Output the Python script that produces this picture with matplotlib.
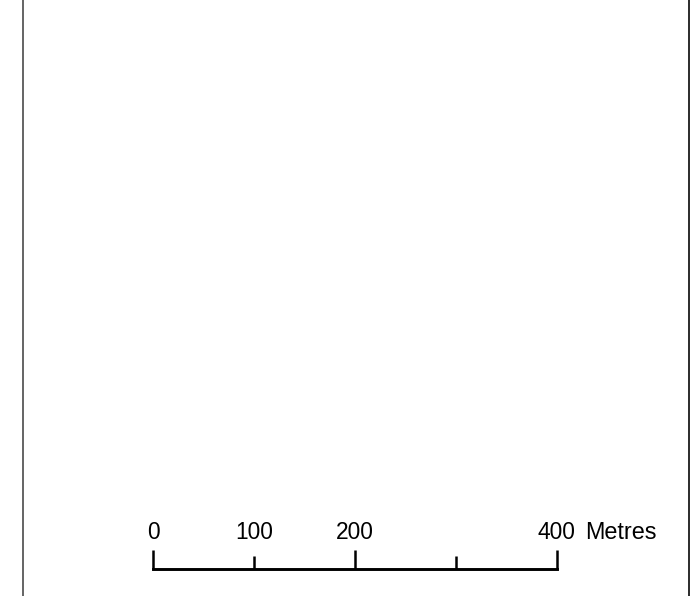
import matplotlib.pyplot as plt

plt.rcParams['font.family'] = ['Liberation Sans', 'DejaVu Sans']

# scale bar values (metres)
tick_values = [0, 100, 200, 300, 400]
major_ticks = [0, 200, 400]
tick_labels = {0: '0', 100: '100', 200: '200', 400: '400'}
unit_label = 'Metres'

fig = plt.figure(figsize=(6.93, 5.96), dpi=100)
ax = fig.add_axes([0, 0, 1, 1])

# pixel mapping: 0 m at x=153.5 px, 400 m at x=556.7 px
x0 = 153.5
px_per_m = (556.7 - x0) / 400
ax.set_xlim(-x0 / px_per_m, (693 - x0) / px_per_m)
ax.set_ylim(596, 0)
ax.axis('off')

# map frame edges
ax.axvline((22.8 - x0) / px_per_m, color='#3a3a3a', lw=1.1)
ax.axvline((689 - x0) / px_per_m, color='#1a1a1a', lw=1.3)

# scale bar
bar_y = 569.2
ax.plot([tick_values[0], tick_values[-1]], [bar_y, bar_y], color='black', lw=2.1,
        solid_capstyle='projecting')
for v in tick_values:
    top = 550.3 if v in major_ticks else 555.5
    ax.plot([v, v], [bar_y, top], color='black', lw=1.8, solid_capstyle='butt')

for v, lab in tick_labels.items():
    ax.text(v, 538.8, lab, ha='center', va='baseline', fontsize=16.4)
ax.text(400 + 28.5 / px_per_m, 538.8, unit_label, ha='left', va='baseline', fontsize=16.8)

fig.savefig('out.png', dpi=100)
